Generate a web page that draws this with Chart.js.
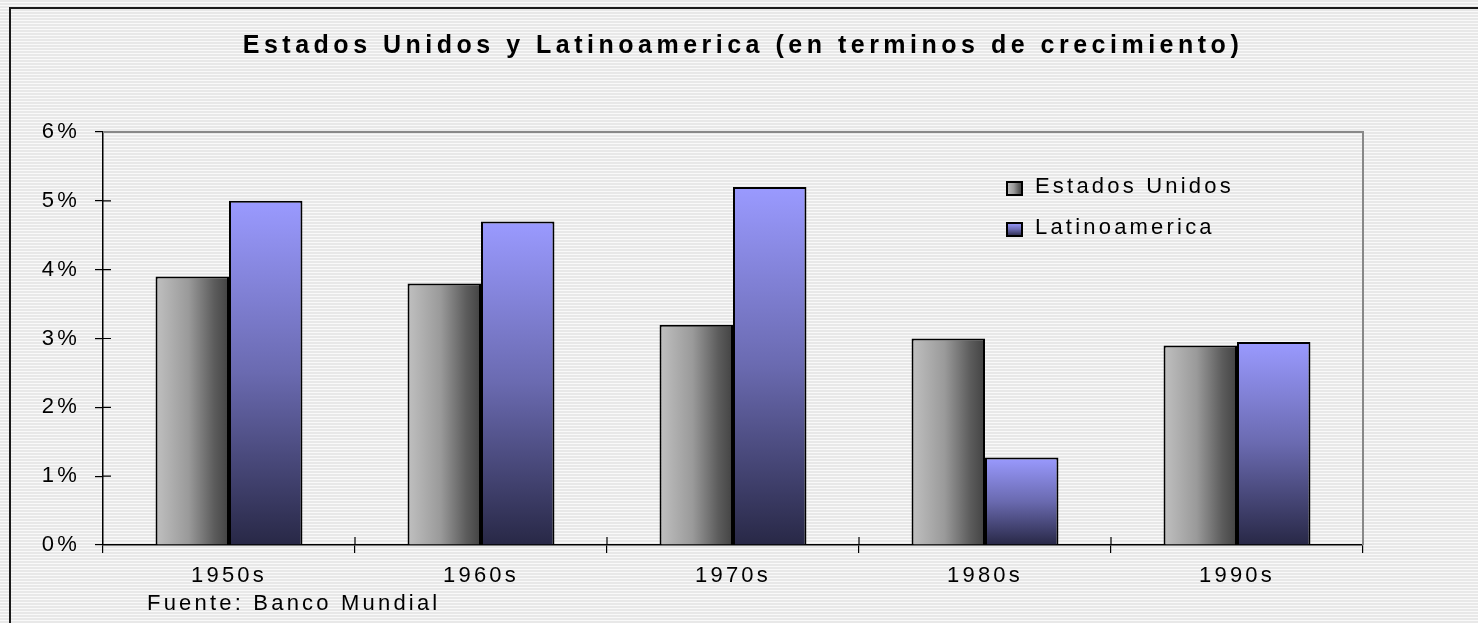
<!DOCTYPE html>
<html>
<head>
<meta charset="utf-8">
<script src="https://cdn.jsdelivr.net/npm/chart.js@4.4.1/dist/chart.umd.min.js"></script>
<style>
    html, body { margin: 0; padding: 0; }
    body {
        width: 1478px; height: 623px; overflow: hidden; position: relative;
        background: repeating-linear-gradient(to bottom, #e8e8e8 0px, #e8e8e8 2px, #f9f9f9 2px, #f9f9f9 3px);
    }
    #marco { position: absolute; left: 9px; top: 7px; width: 1500px; height: 700px;
             border-top: 2px solid #1a1a1a; border-left: 2px solid #1a1a1a; }
    #grafico { position: absolute; left: 0; top: 0; }
</style>
</head>
<body>
<div id="marco"></div>
<canvas id="grafico" width="1478" height="623"></canvas>
<script>
const categorias = ['1950s', '1960s', '1970s', '1980s', '1990s'];
const estadosUnidos = [3.9, 3.8, 3.2, 3.0, 2.9];
const latinoamerica = [5.0, 4.7, 5.2, 1.27, 2.95];
const marcasY = [0, 1, 2, 3, 4, 5, 6];
const nombresSeries = ['Estados Unidos', 'Latinoamerica'];
const titulo = 'Estados Unidos y Latinoamerica (en terminos de crecimiento)';
const fuente = 'Fuente: Banco Mundial';

const familia = "'Liberation Sans', Arial, sans-serif";
const porcentajeCategoria = 0.583;

// degradado gris horizontal (Estados Unidos)
function degradadoEU(c, x0, x1) {
    const g = c.createLinearGradient(x0, 0, x1, 0);
    g.addColorStop(0, '#c0c0c0');
    g.addColorStop(0.45, '#9a9a9a');
    g.addColorStop(0.8, '#5c5c5c');
    g.addColorStop(1, '#424242');
    return g;
}

// degradado azul vertical (Latinoamerica)
function degradadoLA(c, y0, y1) {
    const g = c.createLinearGradient(0, y0, 0, y1);
    g.addColorStop(0, '#9a9aff');
    g.addColorStop(0.5, '#6a6ab0');
    g.addColorStop(1, '#282846');
    return g;
}

function fondoBarra(context) {
    if (context.type !== 'data') return '#888';
    const chart = context.chart;
    const xs = chart.scales.x, ys = chart.scales.y;
    if (!xs || !ys) return '#888';
    const centro = xs.getPixelForValue(context.dataIndex);
    const ancho = xs.width / categorias.length * porcentajeCategoria / 2;
    if (!isFinite(centro) || !isFinite(ancho) || ancho <= 0) return '#888';
    if (context.datasetIndex === 0) return degradadoEU(chart.ctx, centro - ancho, centro);
    const arriba = ys.getPixelForValue(context.raw);
    const abajo = ys.getPixelForValue(0);
    if (!isFinite(arriba) || !isFinite(abajo)) return '#888';
    return degradadoLA(chart.ctx, arriba, abajo);
}

const decorado = {
    id: 'decorado',
    beforeDraw(chart) {
        chart.ctx.save();
        chart.ctx.letterSpacing = '3.2px';
    },
    beforeDatasetsDraw(chart) {
        const { ctx, chartArea: a, scales: { x, y } } = chart;
        ctx.save();
        ctx.strokeStyle = '#888';
        ctx.lineWidth = 2;
        ctx.beginPath();
        ctx.moveTo(a.left, a.top);
        ctx.lineTo(a.right, a.top);
        ctx.lineTo(a.right, a.bottom);
        ctx.stroke();

        // marcas que cruzan los ejes hacia dentro
        ctx.strokeStyle = '#000';
        ctx.lineWidth = 1.2;
        ctx.beginPath();
        y.ticks.forEach(t => {
            const p = y.getPixelForValue(t.value);
            if (p > a.top + 1 && p < a.bottom - 1) {
                ctx.moveTo(a.left, p);
                ctx.lineTo(a.left + 8, p);
            }
        });
        for (let i = 1; i < categorias.length; i++) {
            const p = x.getPixelForValue(i - 0.5);
            ctx.moveTo(p, a.bottom);
            ctx.lineTo(p, a.bottom - 8);
        }
        ctx.stroke();
        ctx.restore();
    },
    afterDraw(chart) {
        const ctx = chart.ctx;
        const a = chart.chartArea;
        ctx.restore();

        // titulo
        ctx.save();
        ctx.fillStyle = '#000';
        ctx.font = 'bold 25px ' + familia;
        ctx.letterSpacing = '4.5px';
        ctx.textAlign = 'center';
        ctx.textBaseline = 'alphabetic';
        ctx.fillText(titulo, chart.width / 2 + 4, 53);
        ctx.restore();

        // leyenda dentro del area
        ctx.save();
        ctx.font = '22px ' + familia;
        ctx.letterSpacing = '3.2px';
        ctx.textAlign = 'left';
        ctx.textBaseline = 'alphabetic';
        const lx = a.right - 356;
        nombresSeries.forEach((nombre, i) => {
            const by = a.top + 50 + i * 41;
            ctx.fillStyle = i === 0 ? degradadoEU(ctx, lx, lx + 15) : degradadoLA(ctx, by, by + 13);
            ctx.fillRect(lx, by, 15, 13);
            ctx.strokeStyle = '#000';
            ctx.lineWidth = 2;
            ctx.strokeRect(lx, by, 15, 13);
            ctx.fillStyle = '#000';
            ctx.fillText(nombre, lx + 28, by + 11);
        });

        // fuente
        ctx.fillText(fuente, 147, 610);
        ctx.restore();
    }
};

new Chart(document.getElementById('grafico').getContext('2d'), {
    type: 'bar',
    data: {
        labels: categorias,
        datasets: [{
            label: nombresSeries[0],
            data: estadosUnidos,
            backgroundColor: fondoBarra,
            borderColor: '#000',
            borderWidth: 2
        }, {
            label: nombresSeries[1],
            data: latinoamerica,
            backgroundColor: fondoBarra,
            borderColor: '#000',
            borderWidth: 2
        }]
    },
    options: {
        responsive: false,
        animation: false,
        layout: { padding: { top: 132, right: 115, left: 0, bottom: 0 } },
        datasets: { bar: { categoryPercentage: porcentajeCategoria, barPercentage: 1 } },
        plugins: {
            legend: { display: false },
            title: { display: false },
            tooltip: { enabled: false }
        },
        scales: {
            x: {
                grid: { display: true, drawOnChartArea: false, drawTicks: true, tickLength: 8, color: '#000', lineWidth: 1.2 },
                border: { display: true, color: '#000', width: 1.5 },
                ticks: { color: '#000', font: { family: familia, size: 22 }, padding: 10, maxRotation: 0, autoSkip: false },
                afterFit: s => { s.height = 78; }
            },
            y: {
                min: 0,
                max: 6,
                afterBuildTicks: s => { s.ticks = marcasY.map(v => ({ value: v })); },
                grid: { display: true, drawOnChartArea: false, drawTicks: true, tickLength: 8, color: '#000', lineWidth: 1.2 },
                border: { display: true, color: '#000', width: 1.5 },
                ticks: { color: '#000', font: { family: familia, size: 22 }, padding: 15, callback: v => v + '%' },
                afterFit: s => { s.width = 103; }
            }
        }
    },
    plugins: [decorado]
});
</script>
</body>
</html>
